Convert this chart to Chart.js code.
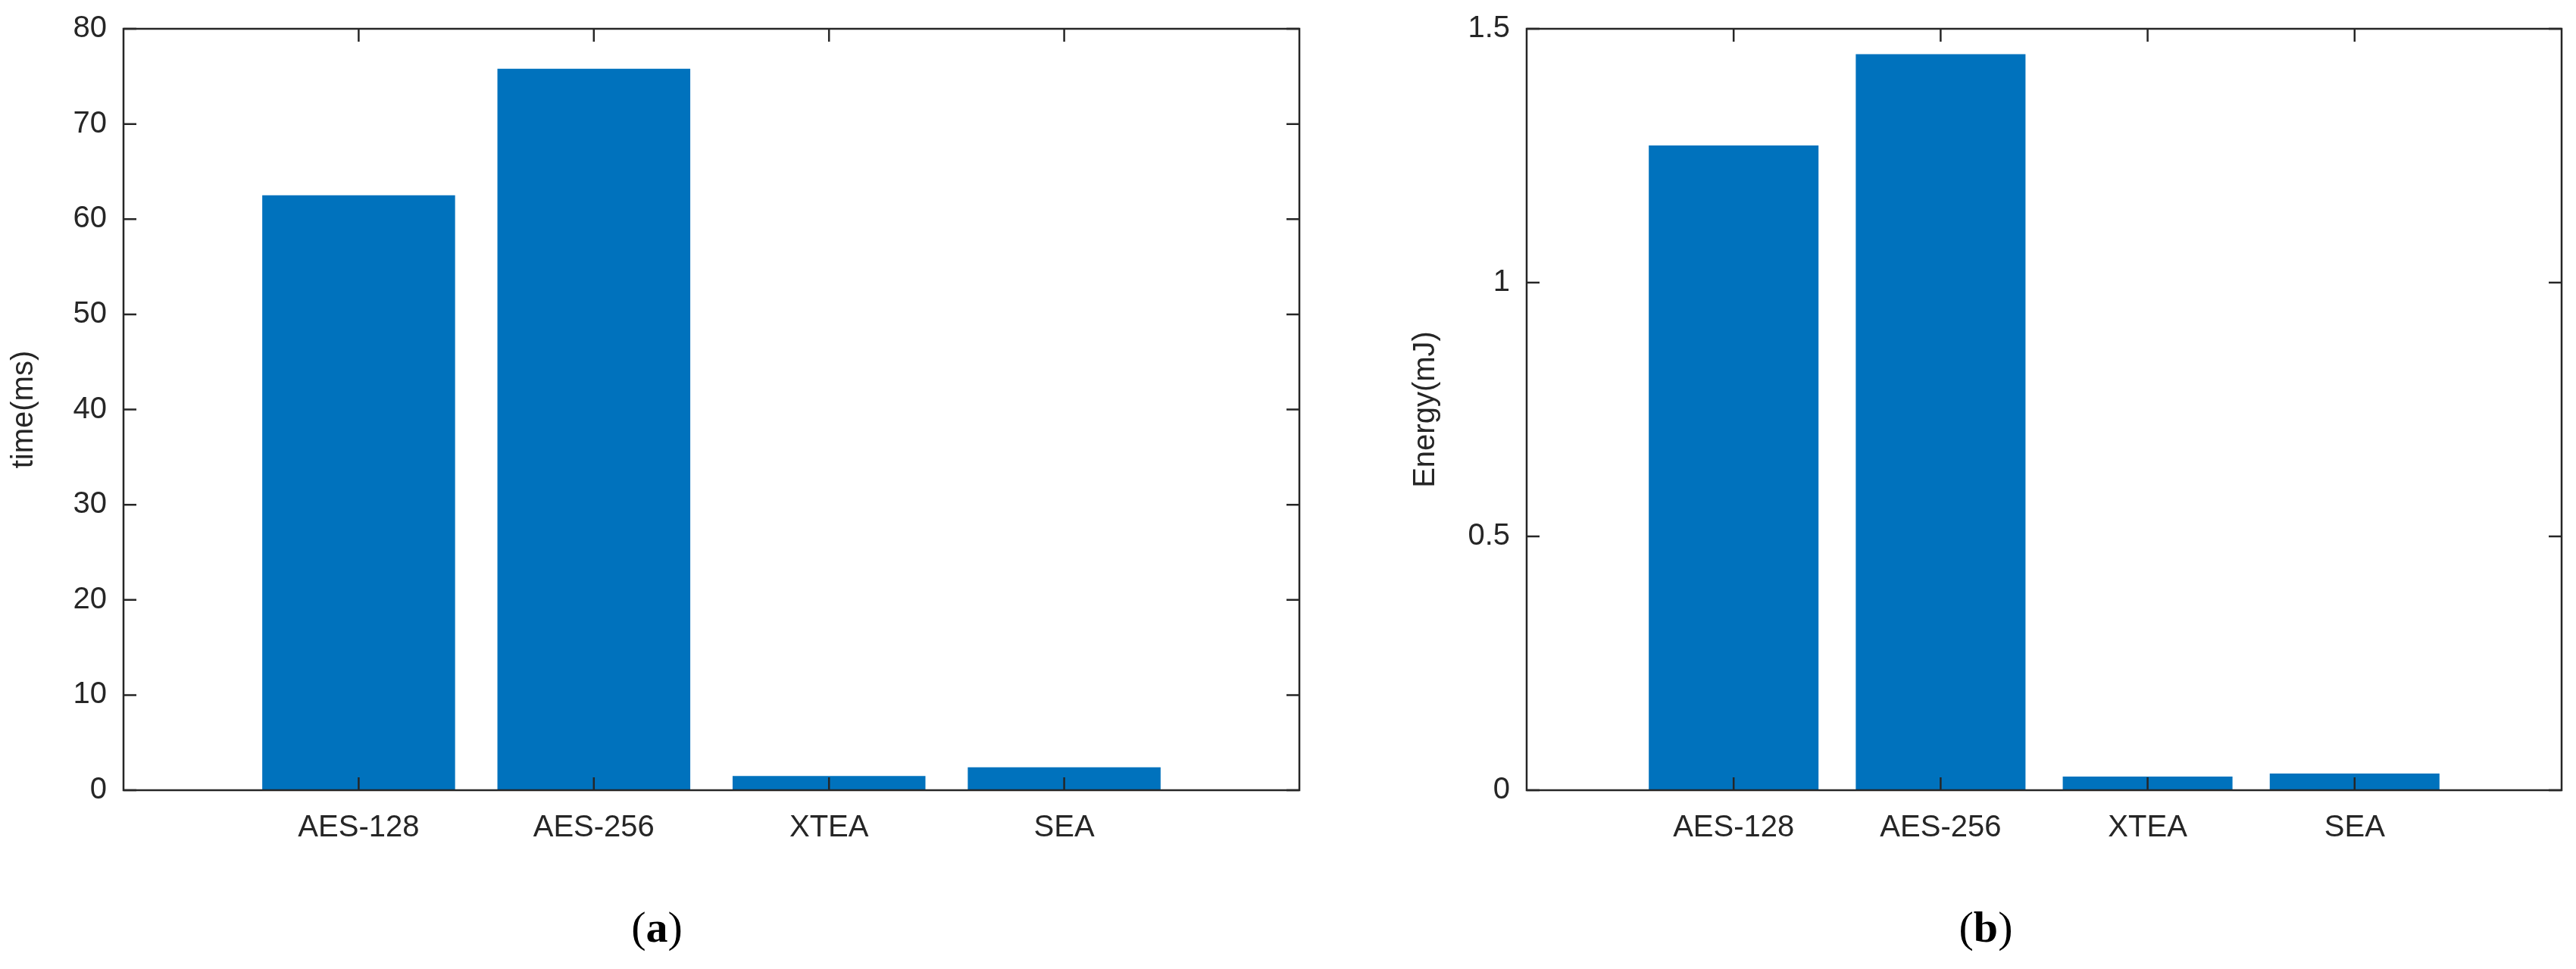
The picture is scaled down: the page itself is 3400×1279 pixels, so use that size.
<!DOCTYPE html>
<html>
<head>
<meta charset="utf-8">
<script src="https://cdn.jsdelivr.net/npm/chart.js@4/dist/chart.umd.min.js"></script>
<style>
  body { margin: 0; background: #fff; width: 3400px; height: 1279px; position: relative; overflow: hidden; }
  .box { position: absolute; top: 0; height: 1150px; }
  .cap { position: absolute; top: 1190px; font-family: "Liberation Serif", serif; font-size: 58px; color: #000; transform: translateX(-50%); }
</style>
</head>
<body>
<div class="box" style="left:0;width:1760px"><canvas id="c1"></canvas></div>
<div class="box" style="left:1850px;width:1550px"><canvas id="c2"></canvas></div>
<div class="cap" style="left:867px">(<b>a</b>)</div>
<div class="cap" style="left:2621px">(<b>b</b>)</div>
<script>
const categories = ["AES-128", "AES-256", "XTEA", "SEA"];
const timeMs = [62.5, 75.8, 1.5, 2.4];
const energyMJ = [1.27, 1.45, 0.027, 0.033];
const timeTicks = { min: 0, max: 80, step: 10 };
const energyTicks = { min: 0, max: 1.5, step: 0.5 };

const txt = "#262626";
const font = { family: "'Liberation Sans', Arial, sans-serif", size: 40 };

// MATLAB-style box with inward ticks on all four sides
const boxPlugin = {
  id: "box",
  afterDraw(chart) {
    const { ctx, chartArea: a, scales } = chart;
    ctx.save();
    ctx.strokeStyle = "#262626";
    ctx.lineWidth = 2.5;
    ctx.strokeRect(a.left, a.top, a.right - a.left, a.bottom - a.top);
    const L = 17;
    ctx.beginPath();
    scales.y.ticks.forEach(t => {
      const y = scales.y.getPixelForValue(t.value);
      ctx.moveTo(a.left, y); ctx.lineTo(a.left + L, y);
      ctx.moveTo(a.right, y); ctx.lineTo(a.right - L, y);
    });
    for (let i = 1; i <= categories.length; i++) {
      const x = scales.x.getPixelForValue(i);
      ctx.moveTo(x, a.bottom); ctx.lineTo(x, a.bottom - L);
      ctx.moveTo(x, a.top); ctx.lineTo(x, a.top + L);
    }
    ctx.stroke();
    ctx.restore();
  }
};

function makeChart(id, values, yt, title, axisW, padRight) {
  new Chart(document.getElementById(id), {
    type: "bar",
    data: {
      datasets: [{
        data: values.map((v, i) => ({ x: i + 1, y: v })),
        backgroundColor: "#0072BD",
        barPercentage: 0.82,
        categoryPercentage: 1
      }]
    },
    options: {
      responsive: true,
      maintainAspectRatio: false,
      animation: false,
      layout: { padding: { top: 36, right: padRight, bottom: 0, left: 0 } },
      plugins: { legend: { display: false }, tooltip: { enabled: false } },
      scales: {
        x: {
          type: "linear", min: 0, max: categories.length + 1, offset: false,
          grid: { display: false }, border: { display: false },
          afterFit(s) { s.height = 107; },
          ticks: {
            stepSize: 1, color: txt, font, padding: 18, maxRotation: 0, autoSkip: false,
            callback: v => categories[v - 1] || ""
          }
        },
        y: {
          min: yt.min, max: yt.max,
          grid: { display: false }, border: { display: false },
          afterFit(s) { s.width = axisW; },
          ticks: { stepSize: yt.step, color: txt, font, padding: 14, callback: v => String(v) },
          title: { display: true, text: title, color: txt, font, padding: 8 }
        }
      }
    },
    plugins: [boxPlugin]
  });
}

makeChart("c1", timeMs, timeTicks, "time(ms)", 163, 45);
makeChart("c2", energyMJ, energyTicks, "Energy(mJ)", 165, 19);
</script>
</body>
</html>
